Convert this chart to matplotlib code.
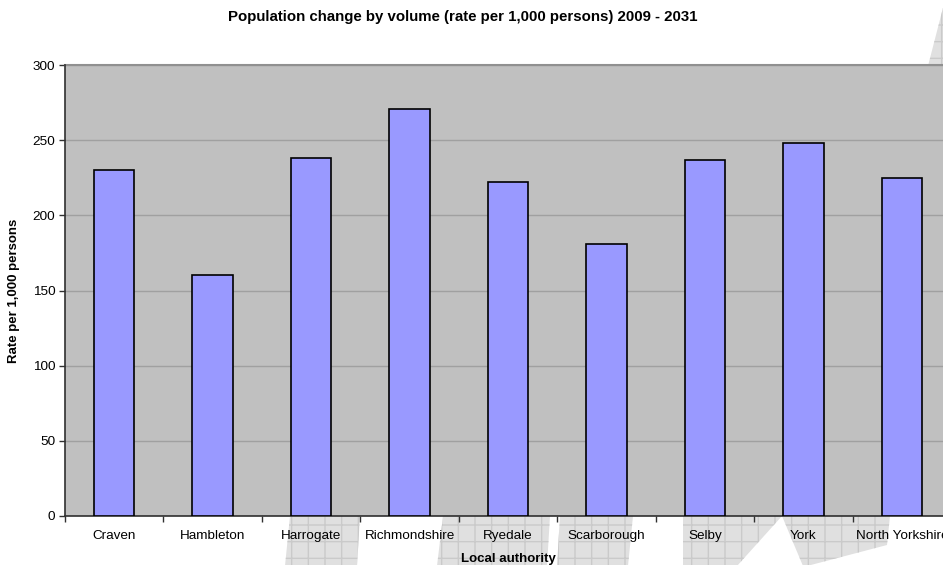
import numpy as np
import matplotlib.pyplot as plt
from matplotlib.patches import Polygon

authorities = ["Craven", "Hambleton", "Harrogate", "Richmondshire", "Ryedale",
               "Scarborough", "Selby", "York", "North Yorkshire"]
rates = [230, 160, 238, 271, 222, 181, 237, 248, 225]

yticks = [0, 50, 100, 150, 200, 250, 300]

W, H = 943, 565
plt.rcParams["font.family"] = ["Liberation Sans", "DejaVu Sans"]

fig = plt.figure(figsize=(W / 100, H / 100), dpi=100)

# faint watermark shapes behind the chart (pixel coords, y from top)
shapes = [
    [(290, 516), (360, 516), (357, 566), (285, 566)],
    [(443, 516), (550, 516), (547, 566), (437, 566)],
    [(560, 516), (633, 516), (628, 566), (557, 566)],
    [(683, 516), (782, 516), (737, 566), (683, 566)],
    [(782, 516), (890, 516), (887, 545), (807, 566), (803, 566)],
    [(928, 66), (944, 66), (944, 4)],
]
for pts in shapes:
    xy = [(x / W, 1 - y / H) for x, y in pts]
    fig.patches.append(Polygon(xy, closed=True, transform=fig.transFigure,
                               facecolor="#e0e0e0", edgecolor="#cacaca",
                               linewidth=0, hatch="+", zorder=-5))

ax = fig.add_axes([65 / W, (H - 516) / H, 886 / W, 451 / H])
ax.set_facecolor("#c0c0c0")

x = np.arange(len(authorities))
ax.bar(x, rates, width=0.41, color="#9999ff", edgecolor="black",
       linewidth=1.2, zorder=3)

ax.set_xlim(-0.5, len(authorities) - 0.5)
ax.set_ylim(0, 300)
ax.set_yticks(yticks)
ax.set_xticks(x)
ax.set_xticklabels(authorities)
ax.set_xticks(np.arange(len(authorities) + 1) - 0.5, minor=True)
ax.tick_params(axis="x", which="major", length=0, pad=10, labelsize=9.7)
ax.tick_params(axis="x", which="minor", length=4, width=1, color="#303030", direction="out")
ax.tick_params(axis="y", length=4, width=1, color="#303030", direction="out", labelsize=9.7, pad=3)

ax.yaxis.grid(True, color="#a0a0a0", linewidth=1)
ax.set_axisbelow(True)

for side in ["top", "right"]:
    ax.spines[side].set_visible(False)
ax.spines["left"].set_color("#303030")
ax.spines["bottom"].set_color("#303030")
ax.spines["left"].set_linewidth(1.2)
ax.spines["bottom"].set_linewidth(1.2)
ax.axhline(300, color="#909090", linewidth=1.5, zorder=2, clip_on=False)

ax.set_xlabel("Local authority", fontsize=9.5, fontweight="bold", labelpad=8)
ax.set_ylabel("Rate per 1,000 persons", fontsize=9.5, fontweight="bold", labelpad=9)

fig.text(463 / W, 1 - 17 / H, "Population change by volume (rate per 1,000 persons) 2009 - 2031",
         ha="center", va="center", fontsize=10.8, fontweight="bold")

fig.savefig("out.png", dpi=100)
